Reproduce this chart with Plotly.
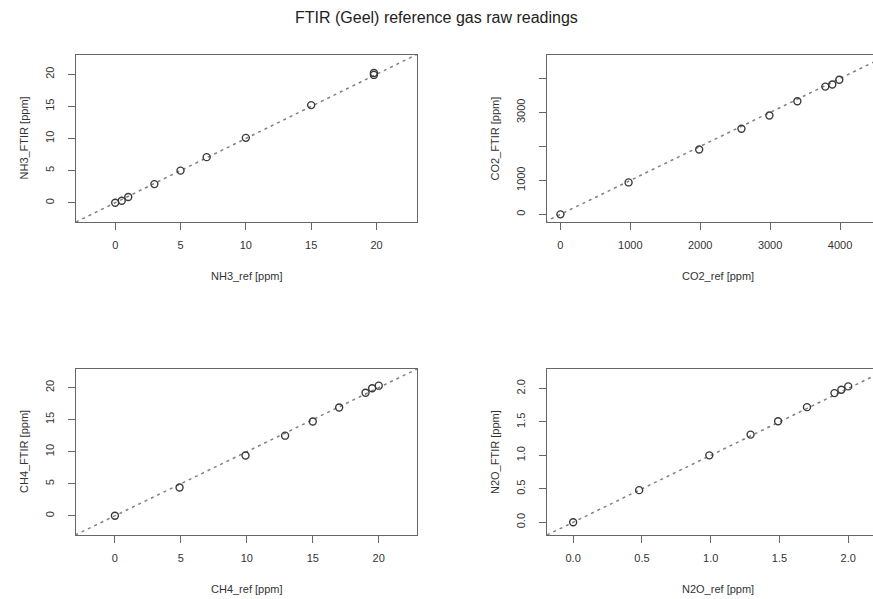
import plotly.graph_objects as go

# ---------------- data ----------------
nh3_ref = [0.0, 0.5, 1.0, 3.0, 5.0, 7.0, 10.0, 15.0, 19.8, 19.8]
nh3_ftir = [0.0, 0.3, 0.9, 2.9, 5.0, 7.1, 10.1, 15.2, 19.9, 20.2]

co2_ref = [0, 975, 1985, 2590, 2990, 3390, 3790, 3890, 3990]
co2_ftir = [0, 940, 1910, 2520, 2910, 3330, 3760, 3820, 3960]

ch4_ref = [0.0, 4.9, 9.9, 12.9, 15.0, 17.0, 19.0, 19.5, 20.0]
ch4_ftir = [0.0, 4.4, 9.4, 12.5, 14.7, 16.9, 19.2, 19.9, 20.3]

n2o_ref = [0.0, 0.48, 0.99, 1.29, 1.49, 1.70, 1.90, 1.95, 2.00]
n2o_ftir = [0.0, 0.48, 1.00, 1.31, 1.51, 1.72, 1.93, 1.98, 2.03]

# tick values / labels
ppm20_ticks = [0, 5, 10, 15, 20]
co2_xticks = [0, 1000, 2000, 3000, 4000]
co2_yticks = [0, 1000, 2000, 3000, 4000]
co2_ytext = ["0", "1000", "", "3000", ""]
n2o_ticks = [0.0, 0.5, 1.0, 1.5, 2.0]
n2o_text = ["0.0", "0.5", "1.0", "1.5", "2.0"]

title = "FTIR (Geel) reference gas raw readings"
x_titles = ["NH3_ref [ppm]", "CO2_ref [ppm]", "CH4_ref [ppm]", "N2O_ref [ppm]"]
y_titles = ["NH3_FTIR [ppm]", "CO2_FTIR [ppm]", "CH4_FTIR [ppm]", "N2O_FTIR [ppm]"]

# ---------------- layout geometry ----------------
W, H = 873, 599
FONT = "Liberation Sans, Arial, sans-serif"
TXT = "#333333"
AX = "#666666"

# panel boxes in pixels: (left, right, top, bottom)
boxes = [(76, 417, 55, 222), (547, 873, 55, 222),
         (76, 417, 369, 535), (547, 873, 369, 535)]
# right panels are cut at the page edge; ranges keep the reference scale
x_ranges = [[-3.0, 23.1], [-192, 4472], [-2.95, 22.9], [-0.19, 2.18]]
y_ranges = [[-3.0, 23.0], [-225, 4690], [-3.0, 22.9], [-0.19, 2.29]]

panels = [
    (nh3_ref, nh3_ftir, ppm20_ticks, None, ppm20_ticks, None),
    (co2_ref, co2_ftir, co2_xticks, None, co2_yticks, co2_ytext),
    (ch4_ref, ch4_ftir, ppm20_ticks, None, ppm20_ticks, None),
    (n2o_ref, n2o_ftir, n2o_ticks, n2o_text, n2o_ticks, n2o_text),
]

fig = go.Figure()
annotations = []

for i, (xs, ys, xt, xtt, yt, ytt) in enumerate(panels):
    n = "" if i == 0 else str(i + 1)
    xa, ya = "x" + n, "y" + n
    l, r, t, b = boxes[i]
    xr, yr = x_ranges[i], y_ranges[i]

    lo = min(xr[0], yr[0])
    hi = max(xr[1], yr[1])
    fig.add_trace(go.Scatter(
        x=[lo, hi], y=[lo, hi], mode="lines",
        line=dict(color="#808080", width=1.5, dash="3px,4px"),
        xaxis=xa, yaxis=ya, hoverinfo="skip", showlegend=False))
    fig.add_trace(go.Scatter(
        x=xs, y=ys, mode="markers",
        marker=dict(symbol="circle-open", size=7, color="#3a3a3a",
                    line=dict(width=1.4, color="#3a3a3a")),
        xaxis=xa, yaxis=ya, showlegend=False))

    right_visible = (r < W)
    xaxis = dict(
        domain=[l / W, r / W], range=xr, anchor=ya,
        showgrid=False, zeroline=False, showline=True, linecolor=AX,
        linewidth=1, mirror=True, ticks="outside", ticklen=7, tickcolor=AX,
        tickwidth=1, tickvals=xt, ticklabelstandoff=6,
        tickfont=dict(family=FONT, size=11, color=TXT))
    if xtt is not None:
        xaxis["ticktext"] = xtt
    yaxis = dict(
        domain=[1 - b / H, 1 - t / H], range=yr, anchor=xa,
        showgrid=False, zeroline=False, showline=True, linecolor=AX,
        linewidth=1, mirror=right_visible, ticks="outside", ticklen=7,
        tickcolor=AX, tickwidth=1, tickvals=yt, tickangle=-90,
        ticklabelstandoff=10,
        tickfont=dict(family=FONT, size=11, color=TXT))
    if ytt is not None:
        yaxis["ticktext"] = ytt
    fig.layout["xaxis" + n] = xaxis
    fig.layout["yaxis" + n] = yaxis

    # axis titles
    box_w = 341
    cx = (l + box_w / 2) / W
    annotations.append(dict(
        text=x_titles[i], xref="paper", yref="paper", x=cx,
        y=1 - (b + 54) / H, showarrow=False, xanchor="center",
        yanchor="middle", font=dict(family=FONT, size=11, color=TXT)))
    annotations.append(dict(
        text=y_titles[i], xref="paper", yref="paper", x=(l - 52) / W,
        y=1 - ((t + b) / 2) / H, showarrow=False, textangle=-90,
        xanchor="center", yanchor="middle",
        font=dict(family=FONT, size=11, color=TXT)))

annotations.append(dict(
    text=title, xref="paper", yref="paper", x=436 / W, y=1 - 17 / H,
    showarrow=False, xanchor="center", yanchor="middle",
    font=dict(family=FONT, size=16, color="#222222")))

fig.update_layout(
    width=W, height=H, margin=dict(l=0, r=0, t=0, b=0),
    paper_bgcolor="white", plot_bgcolor="white",
    annotations=annotations, showlegend=False)

fig.write_html("out.html", config={"displayModeBar": False})

# remove the browser's default page margin so the figure fills the window
with open("out.html", "r", encoding="utf-8") as f:
    html = f.read()
html = html.replace(
    "<head>",
    "<head><style>html,body{margin:0;padding:0;overflow:hidden;}</style>", 1)
with open("out.html", "w", encoding="utf-8") as f:
    f.write(html)
